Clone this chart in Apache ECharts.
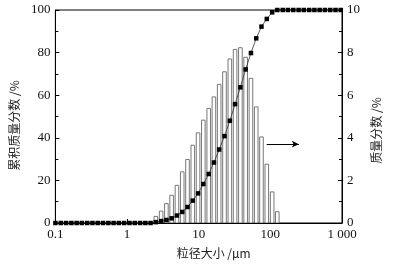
<!DOCTYPE html>
<html>
<head>
<meta charset="utf-8">
<script src="https://cdn.jsdelivr.net/npm/echarts@6/dist/echarts.min.js"></script>
<style>html,body{margin:0;padding:0;background:#fff;}#c{width:393px;height:267px;}</style>
</head>
<body>
<div id="c"></div>
<script>
// particle sizes (µm) of the cumulative curve points
var sizes = [0.1, 0.119, 0.141, 0.167, 0.198, 0.234, 0.278, 0.329, 0.39, 0.462, 0.548, 0.649, 0.769, 0.911, 1.08, 1.28, 1.52, 1.8, 2.13, 2.52, 2.99, 3.54, 4.19, 4.97, 5.89, 6.98, 8.27, 9.8, 11.6, 13.8, 16.3, 19.3, 22.9, 27.2, 32.2, 38.2, 45.2, 53.6, 63.5, 75.2, 89.2, 106, 125, 149, 176, 209, 248, 293, 348, 412, 488, 578, 685, 812, 962];
// cumulative mass fraction (%)
var cumulative = [0, 0, 0, 0, 0, 0, 0, 0, 0, 0, 0, 0, 0, 0, 0, 0, 0, 0, 0, 0.4, 0.9, 1.4, 2.2, 3.5, 5.2, 7.5, 10.5, 13.9, 18.3, 23.0, 28.4, 34.5, 40.8, 48.0, 55.8, 63.7, 72.1, 79.8, 86.7, 92.2, 95.8, 98.9, 100, 100, 100, 100, 100, 100, 100, 100, 100, 100, 100, 100, 100];
// histogram bin sizes (µm) and mass fraction (%)
var barSizes = [2.52, 2.99, 3.54, 4.19, 4.97, 5.89, 6.98, 8.27, 9.8, 11.6, 13.8, 16.3, 19.3, 22.9, 27.2, 32.2, 38.2, 45.2, 53.6, 63.5, 75.2, 89.2, 106, 125];
var massFraction = [0.31, 0.56, 0.91, 1.30, 1.77, 2.40, 2.98, 3.65, 4.23, 4.83, 5.38, 5.92, 6.51, 7.10, 7.70, 8.15, 8.23, 7.78, 6.79, 5.45, 4.04, 2.76, 1.46, 0.53];
// arrow annotation (x in µm, y in left-axis %)
var arrowFrom = [89, 37];
var arrowTo = [250, 37];
var xTickLabels = {0.1: '0.1', 1: '1', 10: '10', 100: '100', 1000: '1 000'};

var cumData = sizes.map(function (s, i) { return [s, cumulative[i]]; });
var barData = barSizes.map(function (s, i) { return [s, massFraction[i]]; });

var numFont = '"Liberation Serif", "DejaVu Serif", serif';
var cjkFont = '"Noto Sans CJK SC", sans-serif';

var chart = echarts.init(document.getElementById('c'), null, {renderer: 'canvas'});
chart.setOption({
  animation: false,
  backgroundColor: '#fff',
  grid: {left: 53, right: 51, top: 10, bottom: 44, show: true, borderColor: '#000', borderWidth: 1, backgroundColor: 'transparent'},
  xAxis: {
    type: 'log', logBase: 10, min: 0.1, max: 1000,
    name: '粒径大小 /μm', nameLocation: 'middle', nameGap: 24,
    nameTextStyle: {fontFamily: cjkFont, fontSize: 12, color: '#222', padding: [0, 0, 0, 30]},
    axisLine: {lineStyle: {color: '#000', width: 1}},
    axisTick: {inside: true, length: 4, lineStyle: {color: '#000'}},
    minorTick: {show: false},
    splitLine: {show: false},
    axisLabel: {fontFamily: numFont, fontSize: 13, color: '#111', margin: 5,
      formatter: function (v) { var k = +v.toPrecision(6); return xTickLabels[k] !== undefined ? xTickLabels[k] : ''; }}
  },
  yAxis: [{
    type: 'value', min: 0, max: 100, interval: 20,
    name: '累积质量分数 /%', nameLocation: 'middle', nameGap: 34, nameRotate: 90,
    nameTextStyle: {fontFamily: cjkFont, fontSize: 12, color: '#222', padding: [0, 18, 0, 0]},
    axisLine: {show: true, lineStyle: {color: '#000'}},
    axisTick: {inside: true, length: 4, lineStyle: {color: '#000'}},
    minorTick: {show: true, splitNumber: 2, length: 3, lineStyle: {color: '#000'}},
    splitLine: {show: false},
    axisLabel: {fontFamily: numFont, fontSize: 13, color: '#111', margin: 5}
  }, {
    type: 'value', min: 0, max: 10, interval: 2, position: 'right',
    name: '质量分数 /%', nameLocation: 'middle', nameGap: 24, nameRotate: 90,
    nameTextStyle: {fontFamily: cjkFont, fontSize: 12, color: '#222', padding: [0, 28, 0, 0]},
    axisLine: {show: true, lineStyle: {color: '#000'}},
    axisTick: {inside: true, length: 4, lineStyle: {color: '#000'}},
    minorTick: {show: true, splitNumber: 2, length: 3, lineStyle: {color: '#000'}},
    splitLine: {show: false},
    axisLabel: {fontFamily: numFont, fontSize: 13, color: '#111', margin: 5}
  }],
  series: [{
    type: 'custom',
    yAxisIndex: 1,
    z: 2,
    clip: true,
    data: barData,
    renderItem: function (params, api) {
      var top = api.coord([api.value(0), api.value(1)]);
      var base = api.coord([api.value(0), 0]);
      var w = 3.6;
      return {
        type: 'rect',
        shape: {x: top[0] - w / 2, y: top[1], width: w, height: base[1] - top[1]},
        style: {fill: '#fff', stroke: '#777', lineWidth: 1}
      };
    }
  }, {
    type: 'line',
    yAxisIndex: 0,
    z: 5,
    data: cumData,
    symbol: 'rect',
    symbolSize: 4.5,
    itemStyle: {color: '#000'},
    lineStyle: {color: '#333', width: 0.8},
    clip: false,
    markLine: {
      silent: true,
      symbol: ['none', 'arrow'],
      symbolSize: [5, 7],
      label: {show: false},
      lineStyle: {color: '#000', width: 1, type: 'solid'},
      data: [[{coord: arrowFrom}, {coord: arrowTo}]]
    }
  }]
});
</script>
</body>
</html>
